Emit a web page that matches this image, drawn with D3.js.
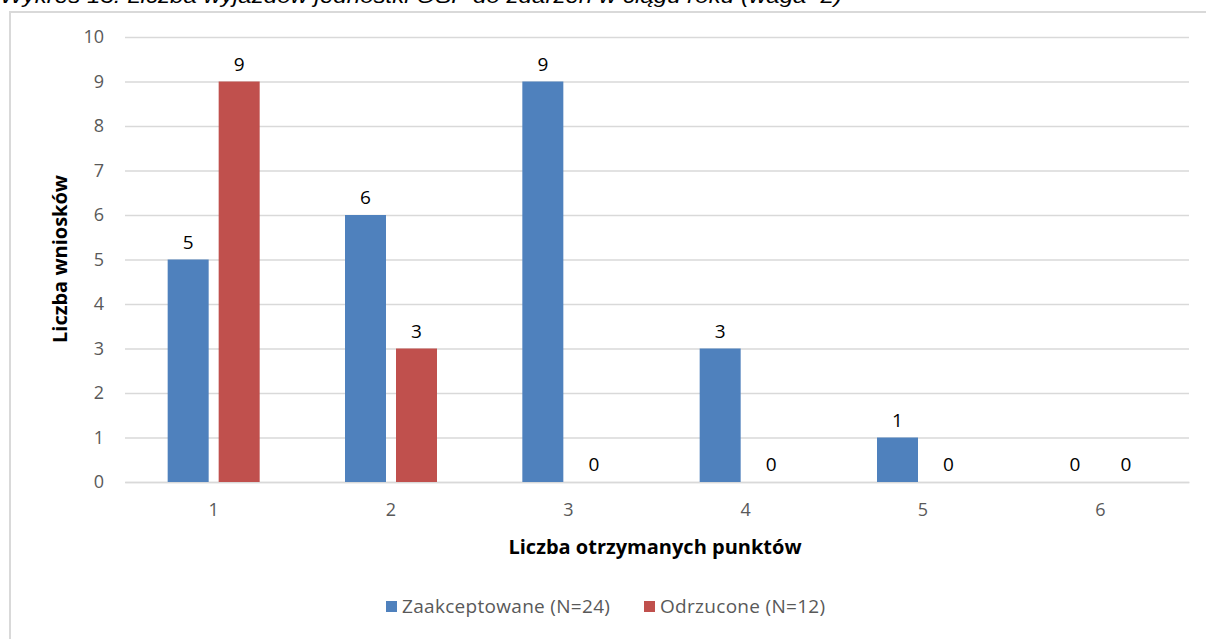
<!DOCTYPE html>
<html>
<head>
<meta charset="utf-8">
<script src="https://cdn.jsdelivr.net/npm/d3@7"></script>
<style>
  body { margin: 0; background: #fff; }
  svg { display: block; }
</style>
</head>
<body>
<svg id="chart" width="1206" height="639"></svg>
<script>
// data
const categories = ["1", "2", "3", "4", "5", "6"];
const seriesNames = ["Zaakceptowane (N=24)", "Odrzucone (N=12)"];
const accepted = [5, 6, 9, 3, 1, 0];
const rejected = [9, 3, 0, 0, 0, 0];
const yTicks = [0, 1, 2, 3, 4, 5, 6, 7, 8, 9, 10];
const colors = ["#4F81BD", "#C0504D"];

const svg = d3.select("#chart");
const plot = { left: 125, right: 1189, top: 37, bottom: 482 };
const font = "'Open Sans', Lato, sans-serif";

// outer chart border (right and bottom fall outside the picture)
svg.append("rect")
  .attr("x", 10).attr("y", 12)
  .attr("width", 1210).attr("height", 650)
  .attr("fill", "#fff")
  .attr("stroke", "#d9d9d9").attr("stroke-width", 2);

// title, clipped at the top edge like in the source
svg.append("text")
  .attr("x", 0).attr("y", 3)
  .attr("font-family", "'Liberation Sans', Arial, sans-serif")
  .attr("font-style", "italic")
  .attr("font-size", 21)
  .attr("textLength", 842)
  .attr("lengthAdjust", "spacingAndGlyphs")
  .attr("fill", "#000")
  .text("Wykres 13. Liczba wyjazdów jednostki OSP do zdarzeń w ciągu roku (waga=2)");

const x = d3.scaleBand().domain(categories).range([plot.left, plot.right]);
const y = d3.scaleLinear().domain([0, 10]).range([plot.bottom, plot.top]);
const barW = 41, gap = 10;
const offsets = [-(barW + gap) / 2, (barW + gap) / 2];

// gridlines + y ticks
const yAxis = d3.axisLeft(y).tickValues(yTicks).tickSize(-(plot.right - plot.left)).tickPadding(21);
const gy = svg.append("g").attr("transform", `translate(${plot.left},0)`).call(yAxis);
gy.select(".domain").remove();
gy.selectAll(".tick line").attr("stroke", "#d9d9d9").attr("stroke-width", 1.3);
gy.selectAll(".tick text")
  .attr("font-family", font).attr("font-size", 18).attr("fill", "#595959");

// x axis
const xAxis = d3.axisBottom(x).tickSize(0).tickPadding(21);
const gx = svg.append("g").attr("transform", `translate(0,${plot.bottom})`).call(xAxis);
gx.select(".domain").attr("stroke", "#d9d9d9").attr("stroke-width", 1.3);
gx.selectAll(".tick text")
  .attr("font-family", font).attr("font-size", 18).attr("fill", "#595959");

// bars + value labels
const series = [accepted, rejected];
series.forEach((vals, si) => {
  const g = svg.append("g");
  g.selectAll("rect").data(vals).join("rect")
    .attr("x", (d, i) => x(categories[i]) + x.bandwidth() / 2 + offsets[si] - barW / 2)
    .attr("y", d => y(d))
    .attr("width", barW)
    .attr("height", d => y(0) - y(d))
    .attr("fill", colors[si]);
  g.selectAll("text").data(vals).join("text")
    .attr("x", (d, i) => x(categories[i]) + x.bandwidth() / 2 + offsets[si])
    .attr("y", d => y(d) - 11)
    .attr("text-anchor", "middle")
    .attr("font-family", font).attr("font-size", 19).attr("fill", "#000")
    .text(d => d);
});

// axis titles
svg.append("text")
  .attr("x", 655).attr("y", 554)
  .attr("text-anchor", "middle")
  .attr("font-family", font).attr("font-weight", "bold").attr("font-size", 20)
  .text("Liczba otrzymanych punktów");

svg.append("text")
  .attr("transform", "translate(67,259) rotate(-90)")
  .attr("text-anchor", "middle")
  .attr("font-family", font).attr("font-weight", "bold").attr("font-size", 20)
  .text("Liczba wniosków");

// legend
const legendX = [386, 644];
const leg = svg.append("g");
seriesNames.forEach((name, i) => {
  leg.append("rect")
    .attr("x", legendX[i]).attr("y", 601)
    .attr("width", 11).attr("height", 11)
    .attr("fill", colors[i]);
  leg.append("text")
    .attr("x", legendX[i] + 16).attr("y", 613)
    .attr("font-family", font).attr("font-size", 19)
    .attr("letter-spacing", 0.3)
    .attr("fill", "#595959")
    .text(name);
});
</script>
</body>
</html>
